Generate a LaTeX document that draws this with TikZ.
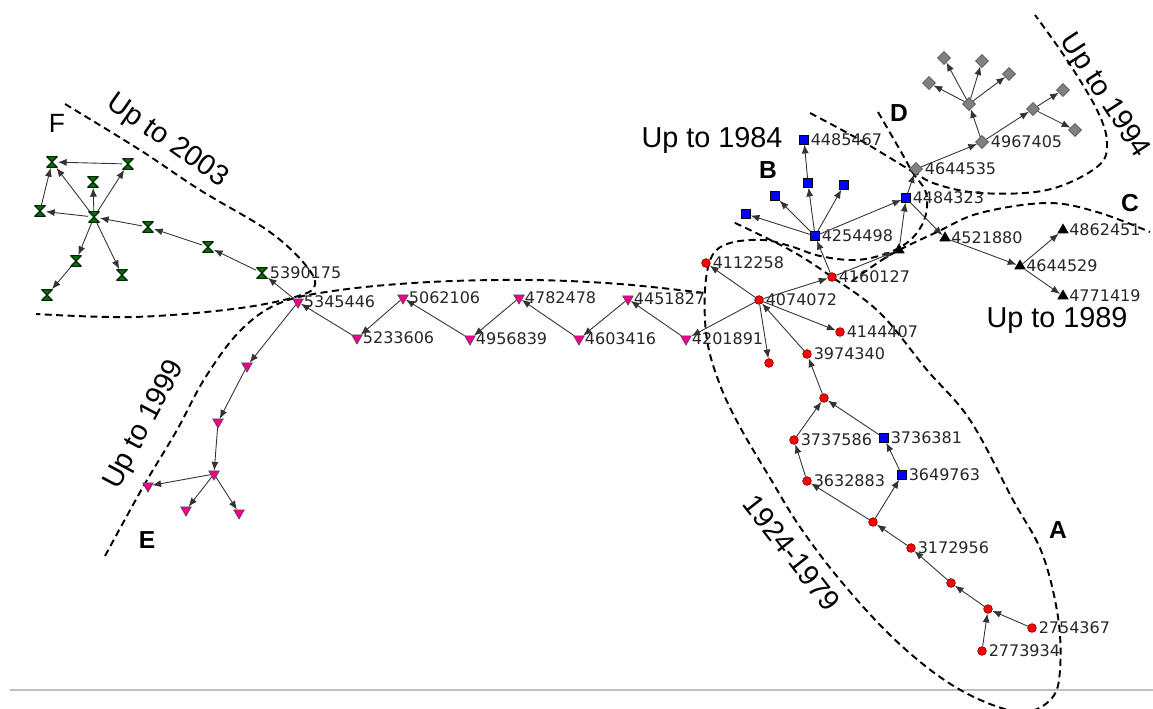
\documentclass[tikz,border=0pt]{standalone}
\usepackage{fontspec}
\setmainfont{Liberation Sans}
\newfontfamily\numfont{DejaVu Sans}
\usetikzlibrary{shapes.geometric,arrows.meta}

\begin{document}
\begin{tikzpicture}[x=.02cm,y=-.02cm,
 lab/.style={font=\numfont\fontsize{9.1}{9}\selectfont,text=black!85,inner sep=1pt},
 big/.style={font=\fontsize{16.4}{18}\selectfont},
 letter/.style={font=\fontsize{14}{16}\selectfont\bfseries},
 redpt/.style={circle,fill=red,draw=red!40!black,line width=.3pt,minimum size=5pt,inner sep=0pt},
 bluept/.style={rectangle,fill=blue,draw=black,line width=.3pt,minimum size=5pt,inner sep=0pt},
 magpt/.style={regular polygon,regular polygon sides=3,shape border rotate=180,
  fill=magenta,draw=black!70,line width=.3pt,minimum size=7pt,inner sep=0pt},
 blackpt/.style={regular polygon,regular polygon sides=3,fill=black,minimum size=7.5pt,inner sep=0pt},
 graypt/.style={diamond,fill=gray,draw=gray!50!black,line width=.3pt,minimum size=7.5pt,inner sep=0pt},
 greenpt/.style={rectangle,minimum size=6.3pt,inner sep=0pt,
  path picture={\filldraw[fill=green!45!black,draw=green!15!black,line width=.7pt]
   (path picture bounding box.north west)--(path picture bounding box.north east)
   --(path picture bounding box.center)--cycle
   (path picture bounding box.south west)--(path picture bounding box.south east)
   --(path picture bounding box.center)--cycle;}},
 zone/.style={dashed,line width=1.1pt,dash pattern=on 4pt off 2.5pt}]
 \useasboundingbox (0,0) rectangle (1153,708);
 \draw[black!25,line width=.6pt] (10,690)--(1153,690);
 % vùng
 \draw[zone] plot[smooth,tension=.6] coordinates {(65,104) (140,150) (200,190) (267,230)
  (303,262) (315,285) (295,297) (233,309) (133,317) (36,314)};
 \draw[zone] plot[smooth,tension=.6] coordinates {(105,556) (143,487) (177,430) (205,378)
  (240,331) (280,303) (340,290) (430,282) (530,280) (620,284) (705,293)};
 \draw[zone] plot[smooth,tension=.6] coordinates {(878,112) (900,150) (913,173) (925,190)
  (927,207) (922,225) (908,242) (885,254) (855,260) (820,256) (790,246) (763,240) (730,243)
  (712,256) (705,290) (707,340) (720,385) (740,427) (770,478) (800,527) (840,580) (890,635)
  (940,677) (985,702) (1025,712) (1052,698) (1060,670) (1058,617) (1042,553) (1013,500)
  (970,420) (927,370) (880,313) (832,277) (790,250) (733,222)};
 \draw[zone] plot[smooth,tension=.6] coordinates {(913,170) (933,183) (980,193) (1047,190)
  (1097,167) (1107,143) (1097,110) (1067,60) (1035,15)};
 \draw[zone] plot[smooth,tension=.6] coordinates {(810,113) (860,140) (913,172)};
 \draw[zone] plot[smooth,tension=.6] coordinates {(852,281) (890,255) (937,232) (980,213)
  (1047,203) (1097,212) (1150,232)};
 \path
 (167,141) node[big,rotate=-35] (t2003) {Up to 2003}
 (145,425) node[big,rotate=62] (t1999) {Up to 1999}
 (792,553) node[big,rotate=-52] (t1924) {1924-1979}
 (1104,96) node[big,rotate=-57] (t1994) {Up to 1994}
 (712,140) node[big] (t1984) {Up to 1984}
 (1057,320) node[big] (t1989) {Up to 1989}
 (1058,530) node[letter] (lA) {A}
 (768,170) node[letter] (lB) {B}
 (1130,203) node[letter] (lC) {C}
 (899,113) node[letter] (lD) {D}
 (147,540) node[letter] (lE) {E}
 (57,123) node[font=\fontsize{15}{16}\selectfont] (lF) {F};
 \path % <<< F
 (52,162) node[greenpt] (f1) {}
 (128,164) node[greenpt] (f2) {}
 (93,182) node[greenpt] (f3) {}
 (40,211) node[greenpt] (f4) {}
 (94,217) node[greenpt] (fh) {}
 (76,261) node[greenpt] (f6) {}
 (47,295) node[greenpt] (f7) {}
 (122,275) node[greenpt] (f8) {}
 (148,227) node[greenpt] (f9) {}
 (208,247) node[greenpt] (f10) {}
 (262,273) node[greenpt,label={[lab]right:5390175}] (n5390175) {};
 \path % <<< E
 (298,302) node[magpt,label={[lab]right:5345446}] (n5345446) {}
 (357,338) node[magpt,label={[lab]right:5233606}] (n5233606) {}
 (403,298) node[magpt,label={[lab]right:5062106}] (n5062106) {}
 (470,339) node[magpt,label={[lab]right:4956839}] (n4956839) {}
 (519,298) node[magpt,label={[lab]right:4782478}] (n4782478) {}
 (579,339) node[magpt,label={[lab]right:4603416}] (n4603416) {}
 (628,299) node[magpt,label={[lab]right:4451827}] (n4451827) {}
 (686,339) node[magpt,label={[lab]right:4201891}] (n4201891) {}
 (247,366) node[magpt] (e1) {}
 (218,422) node[magpt] (e2) {}
 (214,474) node[magpt] (e3) {}
 (148,486) node[magpt] (e4) {}
 (186,510) node[magpt] (e5) {}
 (239,513) node[magpt] (e6) {};
 \path % <<< A
 (759,300) node[redpt,label={[lab]right:4074072}] (n4074072) {}
 (706,263) node[redpt,label={[lab]right:4112258}] (n4112258) {}
 (832,277) node[redpt,label={[lab]right:4160127}] (n4160127) {}
 (840,332) node[redpt,label={[lab]right:4144407}] (n4144407) {}
 (769,363) node[redpt] (a0) {}
 (807,354) node[redpt,label={[lab]right:3974340}] (n3974340) {}
 (824,398) node[redpt] (a1) {}
 (794,440) node[redpt,label={[lab]right:3737586}] (n3737586) {}
 (884,438) node[bluept,label={[lab]right:3736381}] (n3736381) {}
 (807,481) node[redpt,label={[lab]right:3632883}] (n3632883) {}
 (902,475) node[bluept,label={[lab]right:3649763}] (n3649763) {}
 (873,522) node[redpt] (a2) {}
 (911,548) node[redpt,label={[lab]right:3172956}] (n3172956) {}
 (951,583) node[redpt] (a3) {}
 (988,609) node[redpt] (a4) {}
 (1032,628) node[redpt,label={[lab]right:2754367}] (n2754367) {}
 (982,651) node[redpt,label={[lab]right:2773934}] (n2773934) {};
 \path % <<< B
 (815,236) node[bluept,label={[lab]right:4254498}] (n4254498) {}
 (804,140) node[bluept,label={[lab]right:4485467}] (n4485467) {}
 (808,183) node[bluept] (b2) {}
 (844,185) node[bluept] (b3) {}
 (775,196) node[bluept] (b4) {}
 (746,214) node[bluept] (b5) {}
 (906,198) node[bluept,label={[lab]right:4484323}] (n4484323) {};
 \path % <<< C
 (899,250) node[blackpt] (c1) {}
 (945,238) node[blackpt,label={[lab]right:4521880}] (n4521880) {}
 (1020,266) node[blackpt,label={[lab]right:4644529}] (n4644529) {}
 (1063,230) node[blackpt,label={[lab]right:4862451}] (n4862451) {}
 (1063,296) node[blackpt,label={[lab]right:4771419}] (n4771419) {};
 \path % <<< D
 (916,169) node[graypt,label={[lab]right:4644535}] (n4644535) {}
 (982,142) node[graypt,label={[lab]right:4967405}] (n4967405) {}
 (969,104) node[graypt] (dh) {}
 (944,58) node[graypt] (d1) {}
 (982,61) node[graypt] (d2) {}
 (929,83) node[graypt] (d3) {}
 (1009,74) node[graypt] (d4) {}
 (1033,109) node[graypt] (d5) {}
 (1063,90) node[graypt] (d6) {}
 (1075,130) node[graypt] (d7) {};
 \begin{scope}[-{Latex[length=5pt,width=4pt]},draw=black!80,line width=.5pt]
 \draw (n5345446)--(n5390175); \draw (n5390175)--(f10); \draw (f10)--(f9);
 \draw (f9)--(fh); \draw (fh)--(f4); \draw (fh)--(f3); \draw (fh)--(f2);
 \draw (fh)--(f1); \draw (f2)--(f1); \draw (f4)--(f1); \draw (fh)--(f6);
 \draw (f6)--(f7); \draw (fh)--(f8);
 \draw (n4074072)--(n4201891); \draw (n4201891)--(n4451827);
 \draw (n4451827)--(n4603416); \draw (n4603416)--(n4782478);
 \draw (n4782478)--(n4956839); \draw (n4956839)--(n5062106);
 \draw (n5062106)--(n5233606); \draw (n5233606)--(n5345446);
 \draw (n5345446)--(e1); \draw (e1)--(e2); \draw (e2)--(e3);
 \draw (e3)--(e4); \draw (e3)--(e5); \draw (e3)--(e6);
 \draw (n4074072)--(n4112258); \draw (n4074072)--(n4160127);
 \draw (n4074072)--(n4144407); \draw (n4074072)--(a0);
 \draw (n3974340)--(n4074072); \draw (a1)--(n3974340);
 \draw (n3737586)--(a1); \draw (n3736381)--(a1);
 \draw (n3632883)--(n3737586); \draw (n3649763)--(n3736381);
 \draw (a2)--(n3632883); \draw (a2)--(n3649763); \draw (n3172956)--(a2);
 \draw (a3)--(n3172956); \draw (a4)--(a3);
 \draw (n2754367)--(a4); \draw (n2773934)--(a4);
 \draw (n4160127)--(n4254498); \draw (n4254498)--(b2); \draw (b2)--(n4485467);
 \draw (n4254498)--(b3); \draw (n4254498)--(b4); \draw (n4254498)--(b5);
 \draw (n4254498)--(n4484323); \draw (n4160127)--(c1); \draw (c1)--(n4484323);
 \draw (n4484323)--(n4644535); \draw (n4484323)--(n4521880);
 \draw (n4521880)--(n4644529); \draw (n4644529)--(n4862451);
 \draw (n4644529)--(n4771419);
 \draw (n4644535)--(n4967405); \draw (n4967405)--(dh);
 \draw (dh)--(d1); \draw (dh)--(d2); \draw (dh)--(d3); \draw (dh)--(d4);
 \draw (n4967405)--(d5); \draw (d5)--(d6); \draw (d5)--(d7);
 \end{scope}
\end{tikzpicture}
\end{document}
